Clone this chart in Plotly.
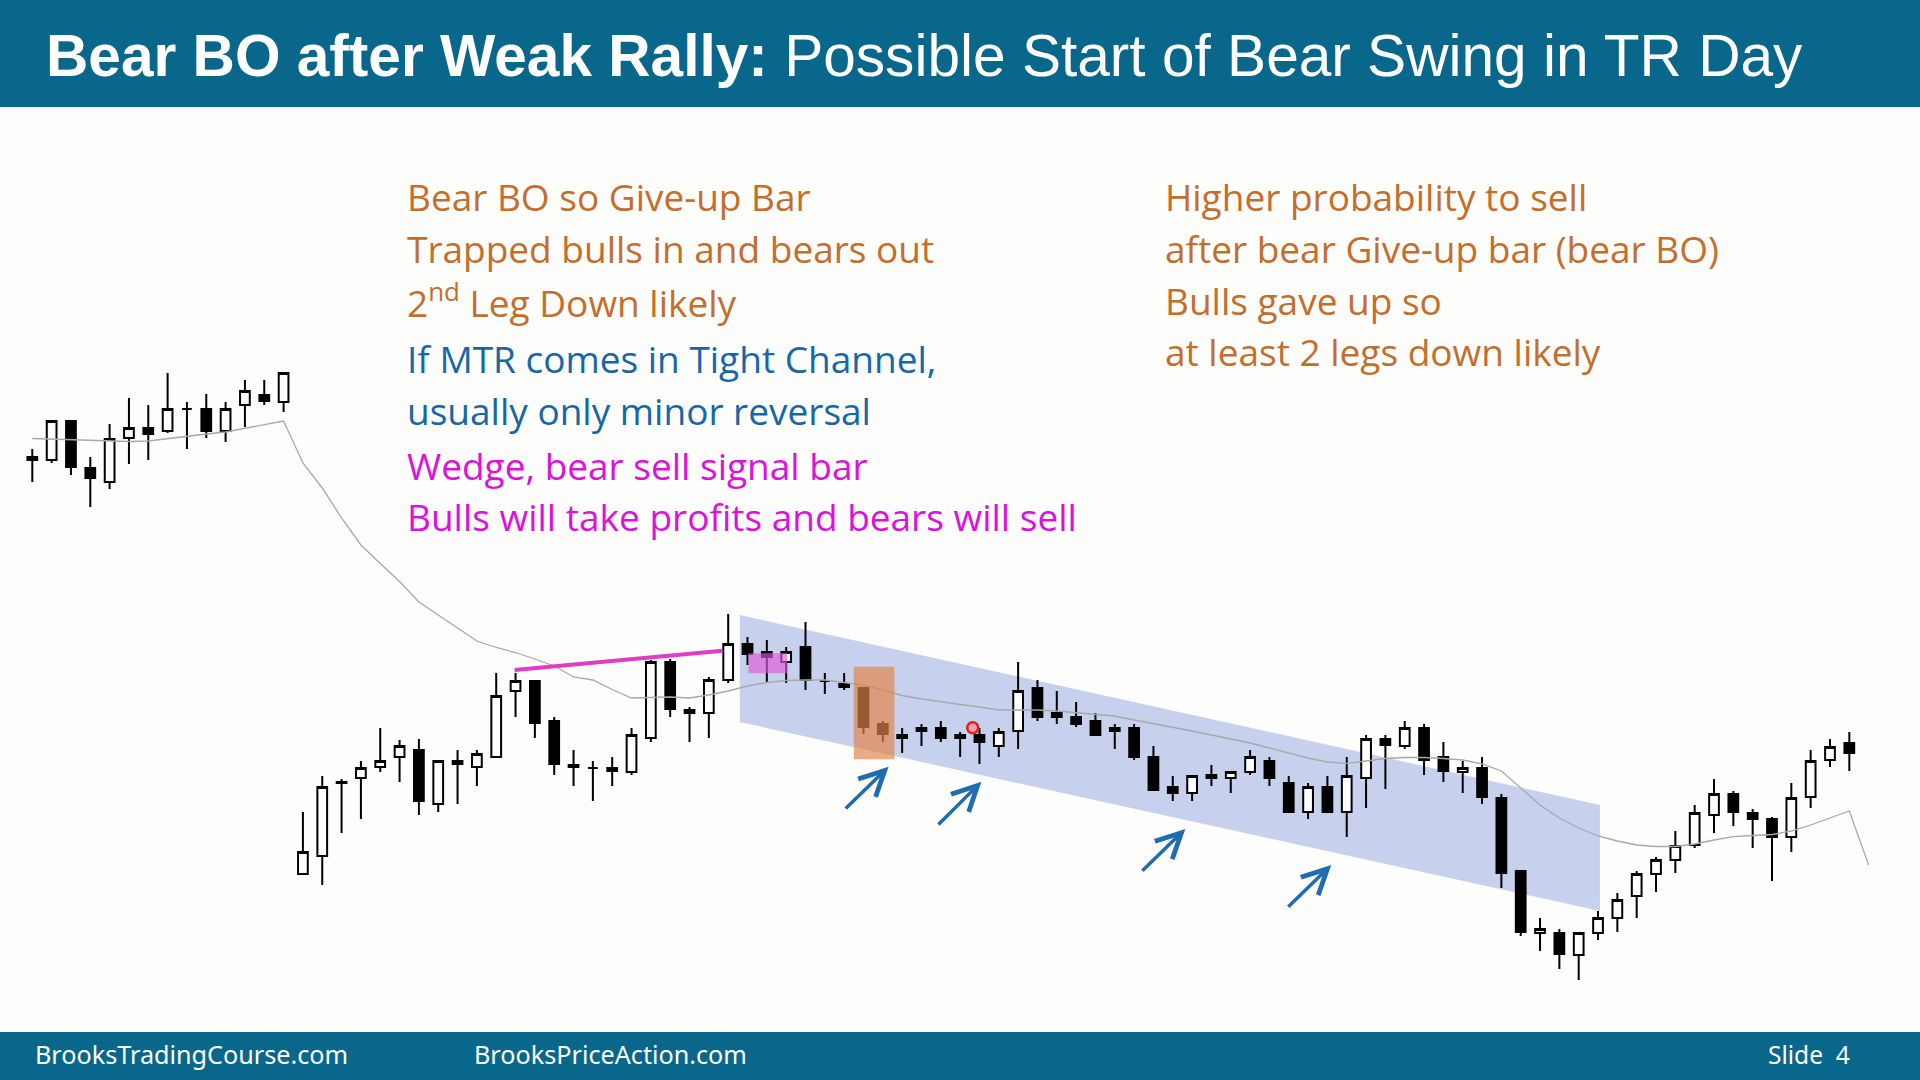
import plotly.graph_objects as go

# ---------------- data (price in chart ticks) ----------------
bar_index = list(range(95))
opens  = [620,620,659,612,598,642,652,649,671,671,649,675,685,678,
          206,224,297,302,313,323,330,276,319,313,323,389,399,359,313,312,
          312,308,342,418,370,367,400,436,428,418,433,399,396,392,356,342,
          349,352,342,345,334,349,392,367,363,359,349,352,323,293,287,305,
          302,308,319,297,268,293,268,302,341,334,352,323,308,312,282,209,
          147,147,125,147,162,184,206,220,235,265,286,267,261,243,283,320,337]
highs  = [631,659,659,623,656,682,675,707,678,686,678,700,700,707,
          268,304,301,319,352,340,341,319,330,330,407,407,399,363,330,319,
          323,352,420,421,373,403,466,443,440,433,458,407,407,392,359,352,
          356,359,348,352,352,418,400,389,378,367,356,356,334,304,304,315,
          308,330,323,304,297,304,323,345,345,359,356,338,319,323,286,209,
          162,151,147,169,187,209,223,249,275,301,289,271,263,297,330,341,348]
lows   = [598,617,605,573,591,616,620,647,631,642,638,653,675,668,
          206,195,247,261,308,298,265,268,276,294,323,363,342,305,294,279,
          294,305,338,363,338,342,397,415,397,397,390,386,390,346,338,327,
          334,338,323,316,323,331,359,356,353,345,331,320,290,279,279,294,
          287,305,294,268,261,268,243,272,291,331,305,298,287,276,192,144,
          129,111,100,140,148,162,188,207,232,247,254,232,199,228,272,313,309]
closes = [623,659,613,602,641,652,646,671,671,649,671,689,679,707,
          228,293,298,312,319,334,279,319,316,326,384,399,357,316,315,312,
          309,345,418,371,367,400,436,426,423,428,400,399,393,353,346,345,
          352,342,345,338,348,389,363,363,356,345,352,323,290,287,304,302,
          308,323,302,268,293,268,304,341,335,352,320,309,312,283,207,148,
          151,126,147,162,180,206,220,234,267,286,268,261,243,282,319,333,327]

ema_index = list(range(96))
ema_values = [641.5,641,640.5,640,639,638.5,639,641.5,644,646,648,651.5,655,659,
              617,592,562,535,516.5,498.5,478,465,452,439,432.5,427.5,421,414,403,400,
              390.5,382,382.5,383,382,385,389,394,397.5,399.5,400,400,397.5,395,390,384.5,
              381,378,375.5,373,370,370,370,369,367.5,366,364,360,356.5,353,349,345,
              341,337,332,327,322,318,316.7,319,321.5,322.5,322.5,321.5,320,316,309,292,
              275,262,252,244,239,235,233.5,233.5,236,240,243.3,244.5,245.5,249,255,262,269,215]

# annotation geometry (bar index / price)
channel_x = [36.6, 81.1]
channel_top = [465, 275]
channel_bottom = [358, 169]
orange_box = dict(x=[42.5, 44.6], p=[320.7, 413.3])
pink_box = dict(x=[37.05, 39.05], p=[406.7, 426.7])
wedge_line = dict(x=[24.95, 35.7], p=[410, 429.3])
arrows_tail = [(42.0, 270), (46.8, 254), (57.35, 207.7), (64.9, 171.7)]
arrows_tip = [(44.3, 313.3), (49.1, 298.3), (59.65, 251), (67.2, 215)]
red_dot = (48.65, 352.3)

title_bold = "Bear BO after Weak Rally:"
title_rest = " Possible Start of Bear Swing in TR Day"
left_lines_orange = ["Bear BO so Give-up Bar", "Trapped bulls in and bears out", "2<sup>nd</sup> Leg Down likely"]
left_lines_blue = ["If MTR comes in Tight Channel,", "usually only minor reversal"]
left_lines_magenta = ["Wedge, bear sell signal bar", "Bulls will take profits and bears will sell"]
right_lines = ["Higher probability to sell", "after bear Give-up bar (bear BO)", "Bulls gave up so", "at least 2 legs down likely"]
footer = ["BrooksTradingCourse.com", "BrooksPriceAction.com", "Slide  4"]

# ---------------- figure ----------------
W, H = 1920, 1080
X0, DX = 32.3, 19.33
TEAL = "#08678A"
ORANGE = "#C46E2E"
BLUE = "#1667A8"
MAGENTA = "#DC12DC"
TEXT_FONT = "Open Sans"
TEXT_SIZE = 37

fig = go.Figure()

fig.add_trace(go.Scatter(x=ema_index, y=ema_values, mode="lines",
                         line=dict(color="#A8A8A8", width=1.3),
                         hoverinfo="skip", showlegend=False))

fig.add_trace(go.Candlestick(
    x=bar_index, open=opens, high=highs, low=lows, close=closes,
    increasing=dict(fillcolor="white", line=dict(color="black", width=2)),
    decreasing=dict(fillcolor="black", line=dict(color="black", width=2)),
    hoverinfo="skip", showlegend=False))

fig.add_trace(go.Scatter(x=[red_dot[0]], y=[red_dot[1]], mode="markers",
                         marker=dict(size=11, color="rgba(250,150,150,0.8)",
                                     line=dict(color="#E0201E", width=2.5)),
                         hoverinfo="skip", showlegend=False))

shapes = []
# header / footer bars
shapes.append(dict(type="rect", xref="paper", yref="paper", x0=0, x1=1,
                   y0=1 - 107 / H, y1=1, fillcolor=TEAL, line=dict(width=0), layer="below"))
shapes.append(dict(type="rect", xref="paper", yref="paper", x0=0, x1=1,
                   y0=0, y1=48 / H, fillcolor=TEAL, line=dict(width=0), layer="below"))
# channel
path = (f"M {channel_x[0]},{channel_top[0]} L {channel_x[1]},{channel_top[1]} "
        f"L {channel_x[1]},{channel_bottom[1]} L {channel_x[0]},{channel_bottom[0]} Z")
shapes.append(dict(type="path", xref="x", yref="y", path=path,
                   fillcolor="#C7D1EE", line=dict(width=0), layer="below"))
# orange box
shapes.append(dict(type="rect", xref="x", yref="y",
                   x0=orange_box["x"][0], x1=orange_box["x"][1],
                   y0=orange_box["p"][0], y1=orange_box["p"][1],
                   fillcolor="rgba(226,132,72,0.68)", line=dict(width=0), layer="above"))
# pink box
shapes.append(dict(type="rect", xref="x", yref="y",
                   x0=pink_box["x"][0], x1=pink_box["x"][1],
                   y0=pink_box["p"][0], y1=pink_box["p"][1],
                   fillcolor="rgba(222,90,212,0.65)", line=dict(width=0), layer="above"))
# wedge line
shapes.append(dict(type="line", xref="x", yref="y",
                   x0=wedge_line["x"][0], x1=wedge_line["x"][1],
                   y0=wedge_line["p"][0], y1=wedge_line["p"][1],
                   line=dict(color="#E03CC4", width=4), layer="above"))

annotations = []
for (tx, ty), (hx, hy) in zip(arrows_tail, arrows_tip):
    annotations.append(dict(x=hx, y=hy, ax=tx, ay=ty, xref="x", yref="y",
                            axref="x", ayref="y", text="", showarrow=True,
                            arrowhead=5, arrowsize=1.4, arrowwidth=3.5,
                            arrowcolor="#1F6DAE"))

def txt(s, px, py, color, size, family=TEXT_FONT, anchor="left"):
    annotations.append(dict(text=s, xref="paper", yref="paper",
                            x=px / W, y=1 - py / H, xanchor=anchor, yanchor="middle",
                            showarrow=False, font=dict(family=family, size=size, color=color)))

txt(f"<b>{title_bold}</b>{title_rest}", 44, 55, "white", 58.6, family="Liberation Sans")

left_y = [197, 248.6, 300]
for s, y in zip(left_lines_orange, left_y):
    txt(s, 405, y, ORANGE, TEXT_SIZE)
for s, y in zip(left_lines_blue, [358.8, 410.2]):
    txt(s, 405, y, BLUE, TEXT_SIZE)
for s, y in zip(left_lines_magenta, [465.3, 516.7]):
    txt(s, 405, y, MAGENTA, TEXT_SIZE)
for s, y in zip(right_lines, [197, 248.6, 300, 351.4]):
    txt(s, 1163, y, ORANGE, TEXT_SIZE)

txt(footer[0], 33, 1054, "white", 25.2, family="Noto Sans")
txt(footer[1], 472, 1054, "white", 25.2, family="Noto Sans")
txt(footer[2], 1852, 1054, "white", 24.5, family="Noto Sans", anchor="right")

fig.update_layout(
    width=W, height=H, margin=dict(l=0, r=0, t=0, b=0),
    paper_bgcolor="#FDFDFB", plot_bgcolor="#FDFDFB",
    shapes=shapes, annotations=annotations,
    xaxis=dict(visible=False, range=[-X0 / DX, (W - X0) / DX], fixedrange=True,
               rangeslider=dict(visible=False)),
    yaxis=dict(visible=False, range=[0, 1080], fixedrange=True),
    boxgap=0.28, showlegend=False,
)

fig.write_html("out.html")
